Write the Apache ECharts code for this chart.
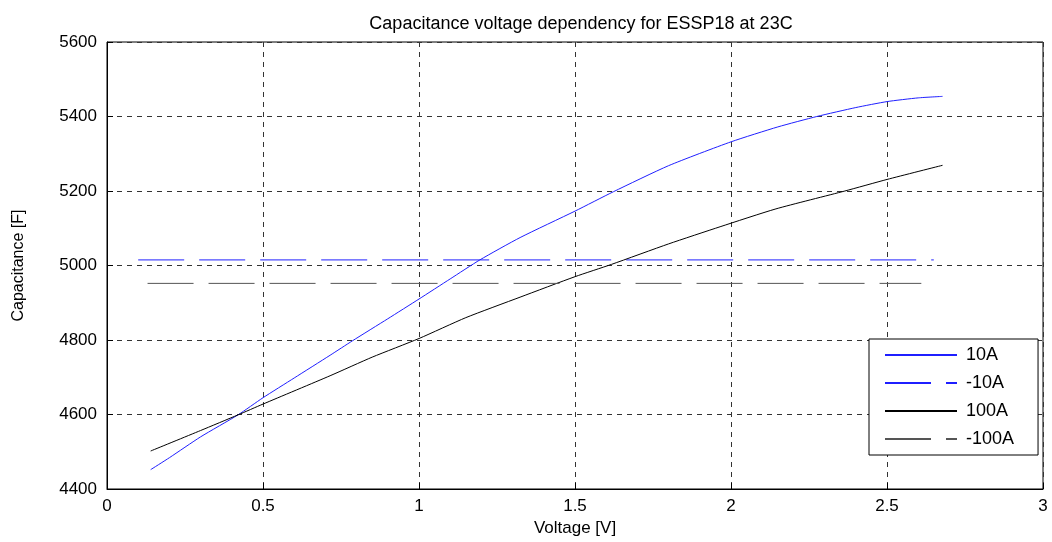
<!DOCTYPE html>
<html>
<head>
<meta charset="utf-8">
<script src="https://cdn.jsdelivr.net/npm/echarts@6/dist/echarts.min.js"></script>
<style>
  html, body { margin: 0; padding: 0; background: #fff; }
  #chart { width: 1052px; height: 542px; }
</style>
</head>
<body>
<div id="chart"></div>
<script>
// 10A curve (voltage, capacitance)
const v10 = [0.14, 0.2, 0.3, 0.42, 0.5, 0.6, 0.715, 0.787, 0.9, 1.0, 1.1, 1.195, 1.324, 1.5, 1.623, 1.8, 2.0, 2.15, 2.275, 2.4, 2.5, 2.6, 2.678];
const c10 = [4452, 4484, 4540, 4599, 4645, 4698, 4759, 4798, 4857, 4910, 4964, 5015, 5075, 5146, 5198, 5268, 5332, 5372, 5400, 5424, 5440, 5450, 5454];
// 100A curve
const v100 = [0.14, 0.3, 0.42, 0.5, 0.715, 0.85, 1.0, 1.15, 1.324, 1.5, 1.617, 1.8, 1.965, 2.144, 2.365, 2.5, 2.678];
const c100 = [4502, 4557, 4599, 4628, 4704, 4754, 4804, 4860, 4915, 4970, 5003, 5058, 5104, 5152, 5200, 5231, 5269];
// -10A and -100A (flat)
const vNeg10 = [0.1, 2.65];
const cNeg10 = [5015, 5015];
const vNeg100 = [0.13, 2.61];
const cNeg100 = [4952, 4952];

const xTicks = { min: 0, max: 3, step: 0.5 };
const yTicks = { min: 4400, max: 5600, step: 200 };

function pairs(xs, ys) {
  return xs.map((x, i) => [x, ys[i]]);
}

const font = 'Liberation Sans, Arial, sans-serif';
const gridLine = { show: true, lineStyle: { color: '#333', type: [5, 5], width: 1 } };

const chart = echarts.init(document.getElementById('chart'), null, { renderer: 'canvas' });
chart.setOption({
  animation: false,
  backgroundColor: '#fff',
  title: {
    text: 'Capacitance voltage dependency for ESSP18 at 23C',
    left: 576,
    textAlign: 'center',
    top: 10,
    textStyle: { fontFamily: font, fontSize: 18, fontWeight: 'normal', color: '#000' }
  },
  grid: {
    left: 107, right: 9, top: 42, bottom: 51,
    show: true, borderColor: '#000', borderWidth: 1, backgroundColor: '#fff'
  },
  legend: {
    orient: 'vertical',
    left: 869,
    top: 339,
    padding: [7, 24, 7, 15],
    itemGap: 10,
    itemWidth: 72,
    itemHeight: 17,
    backgroundColor: '#fff',
    borderColor: '#000',
    borderWidth: 1,
    itemStyle: { opacity: 0 },
    textStyle: { fontFamily: font, fontSize: 18, color: '#000', padding: [0, 0, 0, 4] },
    data: ['10A', '-10A', '100A', '-100A']
  },
  xAxis: {
    type: 'value',
    min: xTicks.min, max: xTicks.max, interval: xTicks.step,
    name: 'Voltage [V]',
    nameLocation: 'middle',
    nameGap: 31,
    nameTextStyle: { fontFamily: font, fontSize: 17, color: '#000' },
    axisLine: { show: true, lineStyle: { color: '#000' } },
    axisTick: { inside: true, length: 6, lineStyle: { color: '#000' } },
    axisLabel: { fontFamily: font, fontSize: 17, color: '#000', margin: 9 },
    splitLine: gridLine
  },
  yAxis: {
    type: 'value',
    min: yTicks.min, max: yTicks.max, interval: yTicks.step,
    name: 'Capacitance [F]',
    nameLocation: 'middle',
    nameGap: 80,
    nameTextStyle: { fontFamily: font, fontSize: 16, color: '#000' },
    axisLine: { show: true, lineStyle: { color: '#000' } },
    axisTick: { inside: true, length: 6, lineStyle: { color: '#000' } },
    axisLabel: { fontFamily: font, fontSize: 17, color: '#000', margin: 10, formatter: v => String(v) },
    splitLine: gridLine
  },
  series: [
    {
      name: '10A', type: 'line', data: pairs(v10, c10),
      symbol: 'none', smooth: 0.2,
      color: '#1f1fff', lineStyle: { color: '#1f1fff', width: 1 }
    },
    {
      name: '-10A', type: 'line', data: pairs(vNeg10, cNeg10),
      symbol: 'none',
      color: '#1f1fff', lineStyle: { color: '#1f1fff', width: 1, type: [46, 15] }
    },
    {
      name: '100A', type: 'line', data: pairs(v100, c100),
      symbol: 'none', smooth: 0.2,
      color: '#000', lineStyle: { color: '#000', width: 1 }
    },
    {
      name: '-100A', type: 'line', data: pairs(vNeg100, cNeg100),
      symbol: 'none',
      color: '#555', lineStyle: { color: '#555', width: 1, type: [46, 15] }
    }
  ]
});
</script>
</body>
</html>
